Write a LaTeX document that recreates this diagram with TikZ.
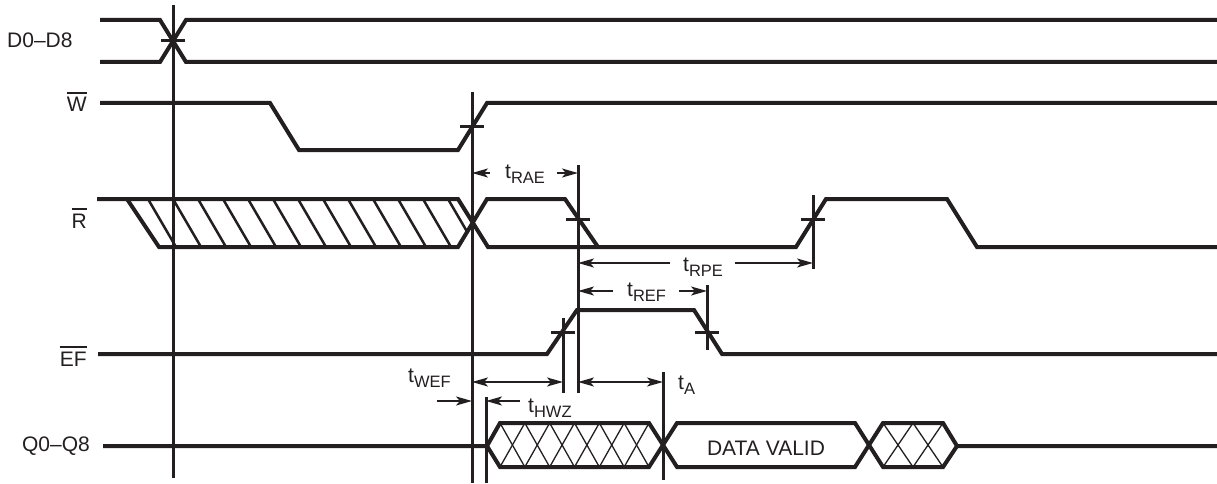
\documentclass[tikz,border=0pt]{standalone}
\usepackage{fontspec}
\setmainfont{Liberation Sans}
\usetikzlibrary{arrows.meta}
\definecolor{ink}{HTML}{231F20}

\newcommand{\tsub}[1]{t\raisebox{-5pt}{\fontsize{16.5}{16.5}\selectfont #1}}
\newcommand{\negsig}[1]{\vbox{\hrule height 1.8pt \kern 3.5pt \hbox{#1}}}

\begin{document}
\begin{tikzpicture}[x=1pt, y=-1pt, >={Stealth[length=16pt,width=9pt,inset=4pt]},
                    every node/.style={font=\fontsize{21}{21}\selectfont, inner sep=0pt, text=ink},
                    signal/.style={draw=ink, line width=4pt, line join=miter},
                    marker/.style={draw=ink, line width=3pt},
                    hatch/.style={draw=ink, line width=2.5pt},
                    xhatch/.style={draw=ink, line width=1.3pt},
                    dim/.style={draw=ink, line width=2pt}]
\useasboundingbox (0,0) rectangle (1217,484);

% signal names
\node[anchor=base west] (lD) at (7,48) {D0--D8};
\node[anchor=base east] (lW) at (87,112) {\negsig{W}};
\node[anchor=base east] (lR) at (87,228) {\negsig{R}};
\node[anchor=base east] (lEF) at (87,366) {\negsig{EF}};
\node[anchor=base east] (lQ) at (90,451) {Q0--Q8};

% D0-D8
\draw[signal] (100,20) -- (160,20) -- (186,62) -- (1217,62);
\draw[signal] (100,62) -- (160,62) -- (186,20) -- (1217,20);

% W
\draw[signal] (100,103) -- (270,103) -- (299,150) -- (458,150) -- (487,103) -- (1217,103);

% R
\begin{scope}
\clip (127,199) -- (458,199) -- (472,223) -- (458,247) -- (159,247) -- cycle;
\foreach \x in {148,173,...,460}
  \draw[hatch] (\x,199) -- (\x+28,247);
\end{scope}
\draw[signal] (97,199) -- (458,199) -- (488,247) -- (796,247) -- (826,199) -- (947,199) -- (977,247) -- (1217,247);
\draw[signal] (127,199) -- (159,247) -- (458,247) -- (487,199) -- (565,199) -- (598,247);

% EF
\draw[signal] (98,354) -- (547,354) -- (577,310) -- (694,310) -- (722,354) -- (1217,354);

% Q0-Q8
\foreach \i in {0,...,5} {
  \draw[xhatch] (500+24.83*\i,423) -- (524.83+24.83*\i,467);
  \draw[xhatch] (500+24.83*\i,467) -- (524.83+24.83*\i,423);
}
\foreach \i in {0,1} {
  \draw[xhatch] (883+30*\i,423) -- (913+30*\i,467);
  \draw[xhatch] (883+30*\i,467) -- (913+30*\i,423);
}
\draw[signal] (103,446) -- (487,446) -- (500,423) -- (649,423) -- (677,467) -- (855,467) -- (883,423) -- (943,423) -- (957,446) -- (1217,446);
\draw[signal] (487,446) -- (500,467) -- (649,467) -- (677,423) -- (855,423) -- (883,467) -- (943,467) -- (957,446);
\node (valid) at (766,448) {DATA VALID};

% reference lines
\draw[marker] (173,5) -- (173,478);
\draw[marker] (472,92) -- (472,483);
\draw[marker] (578,165) -- (578,393);
\draw[marker] (813,195) -- (813,269);
\draw[marker] (707,285) -- (707,350);
\draw[marker] (563,318) -- (563,393);
\draw[marker] (486,397) -- (486,483);
\draw[marker] (663,372) -- (663,480);

% crossing ticks
\foreach \x/\y in {173/41, 472/127, 578/219, 813/219, 563/332, 707/332}
  \draw[marker] (\x-12,\y) -- (\x+12,\y);

% timings
\node[anchor=base west] (tRAE) at (505,178) {\tsub{RAE}};
\node[anchor=base west] (tRPE) at (683,271) {\tsub{RPE}};
\node[anchor=base west] (tREF) at (627,296) {\tsub{REF}};
\node[anchor=base west] (tWEF) at (408,382) {\tsub{WEF}};
\node[anchor=base west] (tHWZ) at (528,412) {\tsub{HWZ}};
\node[anchor=base west] (tA) at (678,389) {\tsub{A}};

\draw[dim,->] (490,173) -- (472,173);
\draw[dim,->] (557,173) -- (578,173);
\draw[dim,->] (670,263) -- (578,263);
\draw[dim,->] (735,263) -- (813,263);
\draw[dim,->] (613,291) -- (578,291);
\draw[dim,->] (679,291) -- (707,291);
\draw[dim,<->] (472,382) -- (563,382);
\draw[dim,<->] (578,382) -- (663,382);
\draw[dim,->] (437,401) -- (472,401);
\draw[dim,->] (520,401) -- (486,401);
\end{tikzpicture}
\end{document}
